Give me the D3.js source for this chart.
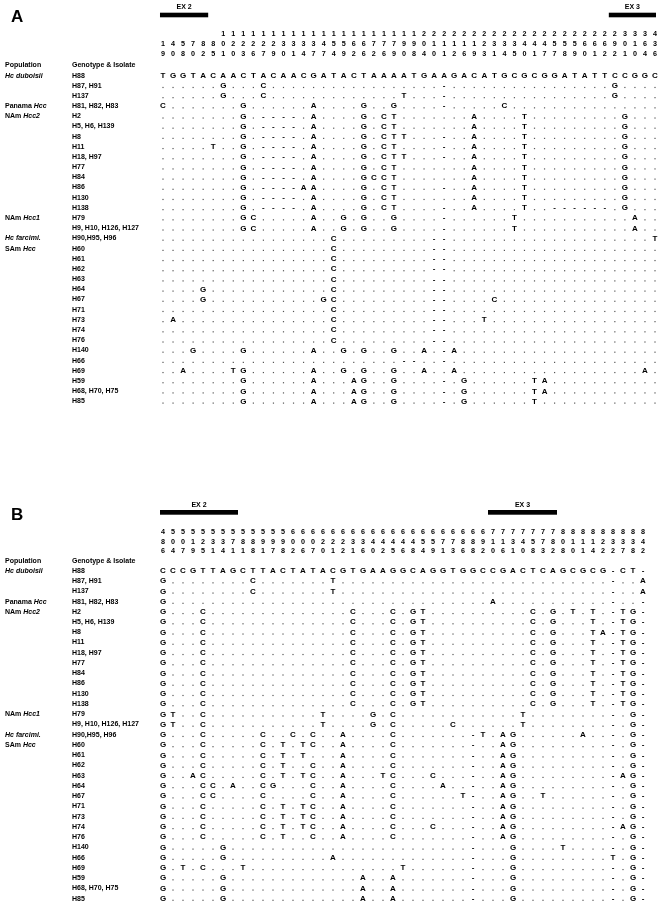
<!DOCTYPE html>
<html><head><meta charset="utf-8">
<script src="https://cdn.jsdelivr.net/npm/d3@7"></script>
<style>
body{margin:0;background:#fff}
svg{will-change:transform;opacity:0.999}
text{font-family:"Liberation Sans",Arial,Helvetica,sans-serif;fill:#000}
</style>
</head><body>
<svg id="c" width="661" height="909"></svg>
<script>
// ---------------- DATA ----------------
const genotypes = ["H88","H87, H91","H137","H81, H82, H83","H2","H5, H6, H139","H8","H11","H18, H97","H77","H84","H86","H130","H138","H79","H9, H10, H126, H127","H90,H95, H96","H60","H61","H62","H63","H64","H67","H71","H73","H74","H76","H140","H66","H69","H59","H68, H70, H75","H85"];

const populations = [
  {row:0,  parts:[["Hc duboisii",true]]},
  {row:3,  parts:[["Panama ",false],["Hcc",true]]},
  {row:4,  parts:[["NAm ",false],["Hcc2",true]]},
  {row:14, parts:[["NAm ",false],["Hcc1",true]]},
  {row:16, parts:[["Hc farcimi.",true]]},
  {row:17, parts:[["SAm ",false],["Hcc",true]]}
];

// alignment positions (column headers)
const positionsA = [19,40,58,70,82,85,101,120,123,126,127,129,130,131,134,137,147,154,159,162,166,172,176,179,190,198,204,210,211,212,216,219,223,231,234,235,240,241,247,257,258,259,260,261,262,292,301,310,364,436];
const positionsB = [486,504,507,519,525,531,534,571,581,588,591,597,598,602,606,607,620,621,622,631,636,640,642,645,646,648,654,659,671,673,686,688,692,710,716,731,740,758,773,782,808,810,811,814,822,832,837,838,842];

// reference sequence (H88)
const refA = "TGGTACAACTACAACGATACTAAAATGAAGACATGCGCGGATATTCCGGC";
const refB = "CCCGTTAGCTTACTATACGTGAAGGCAGGTGGCCGACTCAGCGCG-CT-";

// differences from reference: "column+base" (- = gap), one entry per genotype row
const diffsA = [
  "",
  "6G 10C 28- 45G",
  "6G 10C 24T 28- 45G",
  "0C 8G 15A 20G 23G 28- 34C",
  "8G 10- 11- 12- 13- 15A 20G 22C 23T 31A 36T 46G",
  "8G 10- 11- 12- 13- 15A 20G 22C 23T 31A 36T 46G",
  "8G 10- 11- 12- 13- 15A 20G 22C 23T 24T 28- 31A 36T 46G",
  "5T 8G 10- 11- 12- 13- 15A 20G 22C 23T 28- 31A 36T 46G",
  "8G 10- 11- 12- 13- 15A 20G 22C 23T 24T 28- 31A 36T 46G",
  "8G 10- 11- 12- 13- 15A 20G 22C 23T 31A 36T 46G",
  "8G 10- 11- 12- 13- 15A 20G 21C 22C 23T 31A 36T 46G",
  "8G 10- 11- 12- 13- 14A 15A 20G 22C 23T 28- 31A 36T 46G",
  "8G 10- 11- 12- 13- 15A 20G 22C 23T 31A 36T 46G",
  "8G 10- 11- 12- 13- 15A 20G 22C 23T 28- 31A 36T 39- 40- 41- 42- 43- 44- 46G",
  "8G 9C 15A 18G 20G 23G 28- 35T 47A",
  "8G 9C 15A 18G 20G 23G 28- 35T 47A",
  "17C 27- 28- 49T",
  "17C 27- 28-",
  "17C 27- 28-",
  "17C 27- 28-",
  "17C 27- 28-",
  "4G 17C 27- 28-",
  "4G 16G 17C 27- 28- 33C",
  "17C 27- 28-",
  "1A 17C 27- 28- 32T",
  "17C 27- 28-",
  "17C 27- 28-",
  "3G 8G 15A 18G 20G 23G 26A 28- 29A",
  "24- 25- 28-",
  "2A 7T 8G 15A 18G 20G 23G 26A 29A 48A",
  "8G 15A 19A 20G 23G 28- 30G 37T 38A",
  "8G 15A 19A 20G 23G 28- 30G 37T 38A",
  "8G 15A 19A 20G 23G 28- 30G 37T"
];

const diffsB = [
  "",
  "0G 9C 17T 48A",
  "0G 9C 17T 48A",
  "0G 33A",
  "0G 4C 19C 23C 25G 26T 37C 39G 41T 43T 46T 47G",
  "0G 4C 19C 23C 25G 26T 37C 39G 43T 46T 47G",
  "0G 4C 19C 23C 25G 26T 37C 39G 43T 44A 46T 47G",
  "0G 4C 19C 23C 25G 26T 37C 39G 43T 46T 47G",
  "0G 4C 19C 23C 25G 26T 37C 39G 43T 46T 47G",
  "0G 4C 19C 23C 25G 26T 37C 39G 43T 46T 47G",
  "0G 4C 19C 23C 25G 26T 37C 39G 43T 46T 47G",
  "0G 4C 19C 23C 25G 26T 37C 39G 43T 46T 47G",
  "0G 4C 19C 23C 25G 26T 37C 39G 43T 46T 47G",
  "0G 4C 19C 23C 25G 26T 37C 39G 43T 46T 47G",
  "0G 1T 4C 16T 21G 23C 36T 47G",
  "0G 1T 4C 16T 21G 23C 29C 36T 47G",
  "0G 4C 10C 13C 15C 18A 23C 31- 32T 34A 35G 42A 47G",
  "0G 4C 10C 12T 14T 15C 18A 23C 31- 34A 35G 47G",
  "0G 4C 10C 12T 14T 18A 23C 31- 34A 35G 47G",
  "0G 4C 10C 12T 15C 18A 23C 31- 34A 35G 47G",
  "0G 3A 4C 10C 12T 14T 15C 18A 22T 23C 27C 31- 34A 35G 46A 47G",
  "0G 4C 5C 7A 10C 11G 15C 18A 23C 28A 31- 34A 35G 47G",
  "0G 4C 5C 10C 15C 18A 23C 30T 31- 34A 35G 38T 47G",
  "0G 4C 10C 12T 14T 15C 18A 23C 31- 34A 35G 47G",
  "0G 4C 10C 12T 14T 15C 18A 23C 31- 34A 35G 47G",
  "0G 4C 10C 12T 14T 15C 18A 23C 27C 31- 34A 35G 46A 47G",
  "0G 4C 10C 12T 15C 18A 23C 31- 34A 35G 47G",
  "0G 6G 31- 35G 40T 47G",
  "0G 6G 17A 31- 35G 45T 47G",
  "0G 2T 4C 8T 24T 31- 35G 47G",
  "0G 6G 20A 23A 31- 35G 47G",
  "0G 6G 20A 23A 31- 35G 47G",
  "0G 6G 20A 23A 31- 35G 47G"
];

// exon extents, in alignment-column units
const exonsA = [{name:"EX 2", from:-0.3, to:4.5}, {name:"EX 3", from:44.4, to:49.1}];
const exonsB = [{name:"EX 2", from:-0.3, to:7.5}, {name:"EX 3", from:32.5, to:39.4}];

// ---------------- DRAWING ----------------
const svg = d3.select("#c");
svg.append("rect").attr("width", 661).attr("height", 909).attr("fill", "#fff");

function buildRows(ref, diffs) {
  return diffs.map((spec, r) => {
    if (r === 0) return Array.from(ref);
    const row = Array.from(ref, ch => ch === "-" ? "-" : ".");
    spec.split(/\s+/).filter(Boolean).forEach(tok => {
      const m = tok.match(/^(\d+)(.)$/);
      row[+m[1]] = m[2];
    });
    return row;
  });
}

function drawPanel(cfg) {
  const g = svg.append("g");
  const ncol = cfg.ref.length;
  const x = d3.scaleLinear().domain([0, ncol - 1]).range(cfg.xRange);
  const y = d3.scaleLinear().domain([0, genotypes.length - 1]).range(cfg.yRange);

  // panel letter
  g.append("text").attr("x", cfg.letterX).attr("y", cfg.letterY)
    .attr("font-size", 17).attr("font-weight", "bold").text(cfg.letter);

  // exon bars
  const ex = g.selectAll("g.ex").data(cfg.exons).join("g").attr("class", "ex");
  ex.append("rect")
    .attr("x", d => x(d.from)).attr("width", d => x(d.to) - x(d.from))
    .attr("y", cfg.barY).attr("height", cfg.barH).attr("fill", "#000");
  ex.append("text")
    .attr("x", d => (x(d.from) + x(d.to)) / 2).attr("y", cfg.exLabelY + 2.5)
    .attr("text-anchor", "middle").attr("font-size", 7).attr("font-weight", "bold")
    .text(d => d.name);

  // position digits (hundreds / tens / units)
  const digitFns = [
    p => p >= 100 ? Math.floor(p / 100) : "",
    p => Math.floor(p / 10) % 10,
    p => p % 10
  ];
  digitFns.forEach((f, k) => {
    g.append("g").selectAll("text").data(cfg.positions).join("text")
      .attr("x", (d, i) => x(i)).attr("y", cfg.digitY[k] + 2.6)
      .attr("text-anchor", "middle").attr("font-size", 7.2).attr("font-weight", "bold")
      .text(f);
  });

  // column headers
  g.append("text").attr("x", 5).attr("y", cfg.headY + 2.5).attr("font-size", 7).attr("font-weight", "bold").text("Population");
  g.append("text").attr("x", 72).attr("y", cfg.headY + 2.5).attr("font-size", 7).attr("font-weight", "bold").text("Genotype & Isolate");

  // population labels
  const pop = g.append("g").selectAll("text").data(populations).join("text")
    .attr("x", 5).attr("y", d => y(d.row) + 2.5).attr("font-size", 7).attr("font-weight", "bold");
  pop.selectAll("tspan").data(d => d.parts).join("tspan")
    .attr("font-style", d => d[1] ? "italic" : "normal").text(d => d[0]);

  // genotype labels
  g.append("g").selectAll("text").data(genotypes).join("text")
    .attr("x", 72).attr("y", (d, i) => y(i) + 2.5).attr("font-size", 7).attr("font-weight", "bold").text(d => d);

  // alignment cells
  const rows = buildRows(cfg.ref, cfg.diffs);
  const cells = [];
  rows.forEach((row, r) => row.forEach((ch, c) => cells.push({r, c, ch})));
  const dots = cells.filter(d => d.ch === ".");
  const marks = cells.filter(d => d.ch !== ".");
  g.append("g").selectAll("rect").data(dots).join("rect")
    .attr("x", d => x(d.c) - 0.6).attr("y", d => y(d.r) + 1.7)
    .attr("width", 1.2).attr("height", 1.2).attr("fill", "#555");
  g.append("g").selectAll("text").data(marks).join("text")
    .attr("x", d => x(d.c)).attr("y", d => y(d.r) + 2.9)
    .attr("text-anchor", "middle")
    .attr("font-size", 8)
    .attr("font-weight", "bold")
    .text(d => d.ch);
}

drawPanel({
  letter: "A", letterX: 11, letterY: 22,
  ref: refA, diffs: diffsA, positions: positionsA, exons: exonsA,
  xRange: [163, 655], yRange: [75, 400.8],
  barY: 12.7, barH: 4.6, exLabelY: 6.2,
  digitY: [33.3, 43.3, 53.3], headY: 64.4
});

drawPanel({
  letter: "B", letterX: 11, letterY: 519.5,
  ref: refB, diffs: diffsB, positions: positionsB, exons: exonsB,
  xRange: [163, 643], yRange: [570.3, 898],
  barY: 510, barH: 4.7, exLabelY: 504,
  digitY: [531, 541, 550.5], headY: 560
});
</script>
</body></html>
